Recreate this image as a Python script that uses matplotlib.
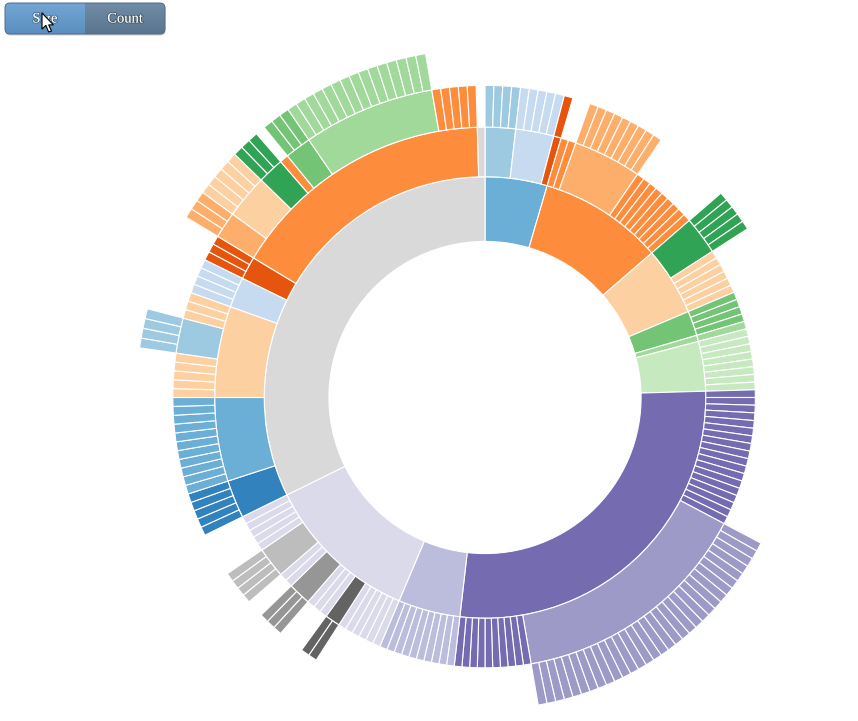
import matplotlib
matplotlib.use("Agg")
import matplotlib.pyplot as plt
from matplotlib.patches import Wedge, FancyBboxPatch, Polygon
import matplotlib.patheffects as pe
import numpy as np

# ---------------- data: flare hierarchy (count mode: each leaf = 1) ----------------
cluster = ["AgglomerativeCluster", "CommunityStructure", "HierarchicalCluster", "MergeEdge"]
graph = ["BetweennessCentrality", "LinkDistance", "MaxFlowMinCut", "ShortestPaths", "SpanningTree"]
optimization = ["AspectRatioBanker"]
analytics = [("cluster", cluster), ("graph", graph), ("optimization", optimization)]

interpolate = ["ArrayInterpolator", "ColorInterpolator", "DateInterpolator", "Interpolator",
               "MatrixInterpolator", "NumberInterpolator", "ObjectInterpolator",
               "PointInterpolator", "RectangleInterpolator"]
animate = ["Easing", "FunctionSequence", ("interpolate", interpolate), "ISchedulable", "Parallel",
           "Pause", "Scheduler", "Sequence", "Transition", "Transitioner", "TransitionEvent", "Tween"]

converters = ["Converters", "DelimitedTextConverter", "GraphMLConverter", "IDataConverter", "JSONConverter"]
data = [("converters", converters), "DataField", "DataSchema", "DataSet", "DataSource", "DataTable", "DataUtil"]

display = ["DirtySprite", "LineSprite", "RectSprite", "TextSprite"]
flex = ["FlareVis"]
physics = ["DragForce", "GravityForce", "IForce", "NBodyForce", "Particle", "Simulation", "Spring", "SpringForce"]

methods = ["add", "and", "average", "count", "distinct", "div", "eq", "fn", "gt", "gte", "iff", "isa",
           "lt", "lte", "max", "min", "mod", "mul", "neq", "not", "or", "orderby", "range", "select",
           "stddev", "sub", "sum", "update", "variance", "where", "xor", "_"]
query = ["AggregateExpression", "And", "Arithmetic", "Average", "BinaryExpression", "Comparison",
         "CompositeExpression", "Count", "DateUtil", "Distinct", "Expression", "ExpressionIterator",
         "Fn", "If", "IsA", "Literal", "Match", "Maximum", ("methods", methods), "Minimum", "Not", "Or",
         "Query", "Range", "StringUtil", "Sum", "Variable", "Variance", "Xor"]

scale = ["IScaleMap", "LinearScale", "LogScale", "OrdinalScale", "QuantileScale", "QuantitativeScale",
         "RootScale", "Scale", "ScaleType", "TimeScale"]

heap = ["FibonacciHeap", "HeapNode"]
math_pkg = ["DenseMatrix", "IMatrix", "SparseMatrix"]
palette = ["ColorPalette", "Palette", "ShapePalette", "SizePalette"]
util = ["Arrays", "Colors", "Dates", "Displays", "Filter", "Geometry", ("heap", heap), "IEvaluable",
        "IPredicate", "IValueProxy", ("math", math_pkg), "Maths", "Orientation", ("palette", palette),
        "Property", "Shapes", "Sort", "Stats", "Strings"]

axis = ["Axes", "Axis", "AxisGridLine", "AxisLabel", "CartesianAxes"]
controls = ["AnchorControl", "ClickControl", "Control", "ControlList", "DragControl", "ExpandControl",
            "HoverControl", "IControl", "PanZoomControl", "SelectionControl", "TooltipControl"]
render = ["ArrowType", "EdgeRenderer", "IRenderer", "ShapeRenderer"]
vis_data = ["Data", "DataList", "DataSprite", "EdgeSprite", "NodeSprite", ("render", render),
            "ScaleBinding", "Tree", "TreeBuilder"]
events = ["DataEvent", "SelectionEvent", "TooltipEvent", "VisualizationEvent"]
legend = ["Legend", "LegendItem", "LegendRange"]
distortion = ["BifocalDistortion", "Distortion", "FisheyeDistortion"]
encoder = ["ColorEncoder", "Encoder", "PropertyEncoder", "ShapeEncoder", "SizeEncoder"]
filter_pkg = ["FisheyeTreeFilter", "GraphDistanceFilter", "VisibilityFilter"]
label = ["Labeler", "RadialLabeler", "StackedAreaLabeler"]
layout = ["AxisLayout", "BundledEdgeRouter", "CircleLayout", "CirclePackingLayout", "DendrogramLayout",
          "ForceDirectedLayout", "IcicleTreeLayout", "IndentedTreeLayout", "Layout", "NodeLinkTreeLayout",
          "PieLayout", "RadialTreeLayout", "RandomLayout", "StackedAreaLayout", "TreeMapLayout"]
operator = [("distortion", distortion), ("encoder", encoder), ("filter", filter_pkg), "IOperator",
            ("label", label), ("layout", layout), "Operator", "OperatorList", "OperatorSequence",
            "OperatorSwitch", "SortOperator"]
vis = [("axis", axis), ("controls", controls), ("data", vis_data), ("events", events),
       ("legend", legend), ("operator", operator), "Visualization"]

flare = [("analytics", analytics), ("animate", animate), ("data", data), ("display", display),
         ("flex", flex), ("physics", physics), ("query", query), ("scale", scale), ("util", util),
         ("vis", vis)]

button_labels = ["Size", "Count"]

# d3.scale.category20c
category20c = ["#3182bd", "#6baed6", "#9ecae1", "#c6dbef", "#e6550d", "#fd8d3c", "#fdae6b", "#fdd0a2",
               "#31a354", "#74c476", "#a1d99b", "#c7e9c0", "#756bb1", "#9e9ac8", "#bcbddc", "#dadaeb",
               "#636363", "#969696", "#bdbdbd", "#d9d9d9"]

# ---------------- layout ----------------
W, H = 858, 721
CX, CY = 485, 397.5
R = 349.0
MAXD = 5

fig = plt.figure(figsize=(W / 100, H / 100), dpi=100)
fig.patch.set_facecolor("white")
ax = fig.add_axes([0, 0, 1, 1])
ax.set_xlim(0, W)
ax.set_ylim(H, 0)
ax.axis("off")

color_map = {}
def color(name):
    if name not in color_map:
        color_map[name] = category20c[len(color_map) % 20]
    return color_map[name]

def nleaves(children):
    return sum(1 if isinstance(c, str) else nleaves(c[1]) for c in children)

total = nleaves(flare)

def ring(depth):
    return R * np.sqrt(depth / MAXD), R * np.sqrt((depth + 1) / MAXD)

def draw(a0, a1, depth, col):
    r_in, r_out = ring(depth)
    w = Wedge((CX, CY), r_out, a0 - 90, a1 - 90, width=r_out - r_in,
              facecolor=col, edgecolor="white", linewidth=0.8)
    ax.add_patch(w)

def visit(name, children, parent, depth, start):
    # preorder like d3 partition
    if children is None:
        c = color(parent)
        span = 1
    else:
        c = color(name)
        span = nleaves(children)
    a0 = start / total * 360.0
    a1 = (start + span) / total * 360.0
    if depth > 0:
        draw(a0, a1, depth, c)
    if children is not None:
        pos = start
        for ch in children:
            if isinstance(ch, str):
                visit(ch, None, name, depth + 1, pos)
                pos += 1
            else:
                visit(ch[0], ch[1], name, depth + 1, pos)
                pos += nleaves(ch[1])

visit("flare", flare, None, 0, 0)

# ---------------- buttons ----------------
bx0, by0, bw, bh = 5, 3, 160, 31
box = FancyBboxPatch((bx0, by0), bw, bh, boxstyle="round,pad=0,rounding_size=5",
                     facecolor="none", edgecolor="#4f6c88", linewidth=0.7, zorder=5)
shadow = FancyBboxPatch((bx0 + 0.5, by0 + 1.5), bw, bh, boxstyle="round,pad=0,rounding_size=5",
                        facecolor="#00000030", edgecolor="none", zorder=3)
ax.add_patch(shadow)
clip = FancyBboxPatch((bx0, by0), bw, bh, boxstyle="round,pad=0,rounding_size=5",
                      facecolor="none", edgecolor="none")
ax.add_patch(clip)
t = np.linspace(0, 1, 64)[:, None]
top_s, bot_s = np.array([0.45, 0.65, 0.83]), np.array([0.35, 0.56, 0.75])
top_c, bot_c = np.array([0.44, 0.55, 0.65]), np.array([0.35, 0.46, 0.56])
grad_s = (top_s[None, :] * (1 - t) + bot_s[None, :] * t)[:, None, :]
grad_c = (top_c[None, :] * (1 - t) + bot_c[None, :] * t)[:, None, :]
for g, x0 in ((grad_s, bx0), (grad_c, bx0 + bw / 2)):
    im = ax.imshow(np.repeat(g, 2, axis=1), extent=(x0, x0 + bw / 2, by0 + bh, by0),
                   aspect="auto", zorder=4, interpolation="bilinear")
    im.set_clip_path(clip)
ax.add_patch(box)
for i, lab in enumerate(button_labels):
    ax.text(bx0 + bw / 4 + i * bw / 2, by0 + bh / 2 + 0.5, lab, color="white",
            fontsize=10.5, family="Liberation Serif", ha="center", va="center", zorder=6,
            path_effects=[pe.withStroke(linewidth=1.2, foreground=(0, 0, 0, 0.35))])

# mouse cursor
tip = np.array([42.0, 13.0])
cur = np.array([[0, 0], [0, 17], [4, 13], [7, 20], [10, 19], [7, 12.5], [12, 12.5]]) * 0.95 + tip
ax.add_patch(Polygon(cur, closed=True, facecolor="white", edgecolor="black", linewidth=0.8, zorder=7))

fig.savefig("out.png", dpi=100, facecolor="white")
